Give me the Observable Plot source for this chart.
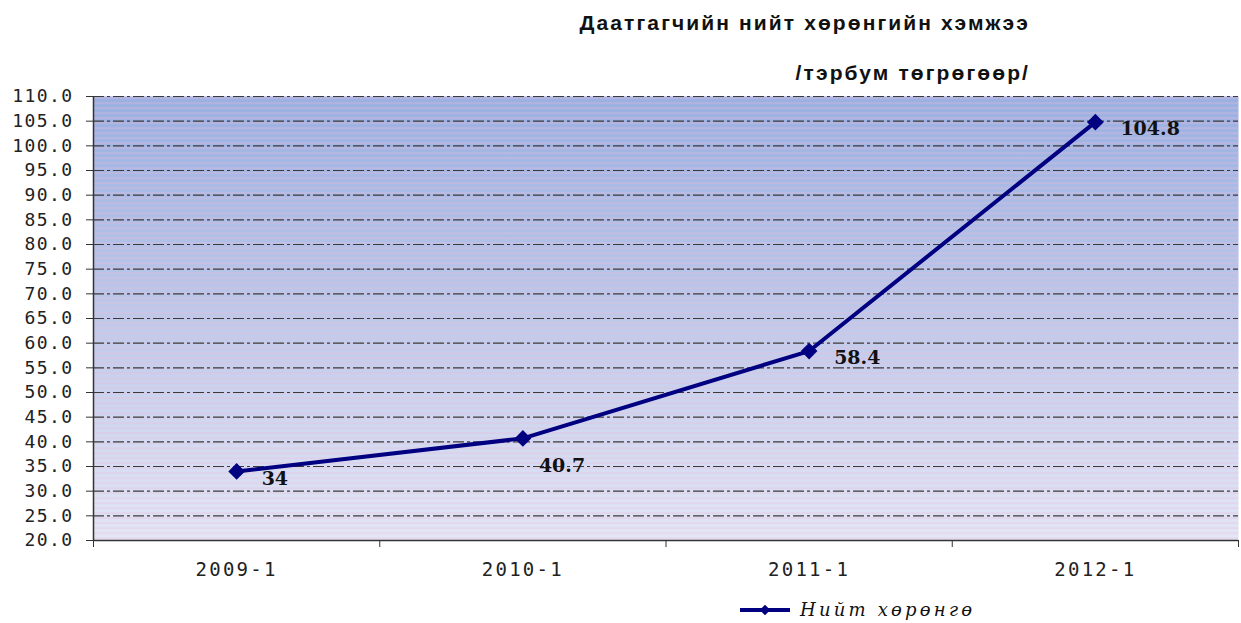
<!DOCTYPE html>
<html>
<head>
<meta charset="utf-8">
<script src="https://cdn.jsdelivr.net/npm/d3@7"></script>
<script src="https://cdn.jsdelivr.net/npm/@observablehq/plot@0.6"></script>
<style>
  html, body { margin: 0; padding: 0; background: #fff; }
  #wrap { position: relative; width: 1241px; height: 623px; overflow: hidden; }
  #wrap svg.plot { position: absolute; left: 0; top: 0; }
  .title { position: absolute; right: 211px; top: 11px; font-family: "Liberation Sans", Arial, sans-serif; font-size: 21px; font-weight: 600; letter-spacing: 2.1px; color: #111; white-space: nowrap; }
  .subtitle { position: absolute; right: 211px; top: 61px; font-family: "Liberation Sans", Arial, sans-serif; font-size: 21px; font-weight: 600; letter-spacing: 2.1px; color: #111; white-space: nowrap; }
  #legend { position: absolute; left: 738px; top: 598px; }
  svg.plot g[aria-label="y-axis tick label"] text { letter-spacing: 1.4px; }
  svg.plot g[aria-label="x-axis tick label"] text { font-size: 19px; letter-spacing: 2.3px; }
</style>
</head>
<body>
<div id="wrap">
  <div class="title">Даатгагчийн нийт хөрөнгийн хэмжээ</div>
  <div class="subtitle">/тэрбум төгрөгөөр/</div>
</div>
<script>
const categories = ["2009-1", "2010-1", "2011-1", "2012-1"];
const values = [34, 40.7, 58.4, 104.8];
const seriesName = "Нийт хөрөнгө";
const yTicks = d3.range(20, 110.001, 5);

const data = categories.map((c, i) => ({ i, c, v: values[i] }));
const boundaries = d3.range(-0.5, categories.length, 1);

const monoFont = "'DejaVu Sans Mono', monospace";

const chart = Plot.plot({
  width: 1241,
  height: 623,
  marginTop: 96,
  marginBottom: 83,
  marginLeft: 93,
  marginRight: 3,
  style: { fontFamily: monoFont, fontSize: "18px", color: "#222", background: "transparent" },
  x: { domain: [-0.5, categories.length - 0.5], axis: null },
  y: { domain: [20, 110], axis: null },
  marks: [
    Plot.frame({ fill: "url(#bgGrad)", stroke: "none" }),
    Plot.frame({ fill: "url(#stripes)", stroke: "none" }),
    Plot.gridY(yTicks.filter(t => t > 20), { stroke: "#3a3a3a", strokeOpacity: 1, strokeWidth: 1.2, strokeDasharray: "11,3,3,3" }),
    Plot.axisY({ ticks: yTicks, tickFormat: d3.format(".1f"), tickSize: 7, tickPadding: 13, label: null, stroke: "#333", fill: "#222" }),
    Plot.axisX({ ticks: boundaries, tickFormat: () => "", tickSize: 7, label: null, stroke: "#333" }),
    Plot.axisX({ ticks: d3.range(categories.length), tickFormat: i => categories[i], tickSize: 0, tickPadding: 22, label: null, fill: "#222" }),
    Plot.ruleY([20], { stroke: "#333", strokeWidth: 1.5 }),
    Plot.ruleX([-0.5], { y1: 20, y2: 110, stroke: "#333", strokeWidth: 1.5 }),
    Plot.line(data, { x: "i", y: "v", stroke: "#000080", strokeWidth: 4 }),
    Plot.dot(data, { x: "i", y: "v", symbol: "diamond2", r: 7.5, fill: "#000080", stroke: "none" }),
    Plot.text(data.filter(d => d.i !== 1), { x: "i", y: "v", text: d => String(d.v), textAnchor: "start", dx: 25, dy: 7, fontFamily: "'DejaVu Serif', serif", fontSize: 19, fontWeight: 600, fill: "#111" }),
    Plot.text(data.filter(d => d.i === 1), { x: "i", y: "v", text: d => String(d.v), textAnchor: "start", dx: 16, dy: 28, fontFamily: "'DejaVu Serif', serif", fontSize: 19, fontWeight: 600, fill: "#111" })
  ]
});
chart.classList.add("plot");

// gradient and stripe definitions
const ns = "http://www.w3.org/2000/svg";
const defs = document.createElementNS(ns, "defs");
defs.innerHTML = `
  <linearGradient id="bgGrad" x1="0" y1="0" x2="0" y2="1">
    <stop offset="0" stop-color="#99b0e2"/>
    <stop offset="0.5" stop-color="#bec9ea"/>
    <stop offset="1" stop-color="#e3e7f6"/>
  </linearGradient>
  <pattern id="stripes" patternUnits="userSpaceOnUse" width="10" height="5">
    <rect x="0" y="2" width="10" height="1.2" fill="rgba(235,185,215,0.5)"/>
  </pattern>`;
chart.insertBefore(defs, chart.firstChild);

document.getElementById("wrap").appendChild(chart);

// legend
const leg = d3.select("#wrap").append("svg").attr("id", "legend").attr("width", 280).attr("height", 25);
leg.append("line").attr("x1", 2).attr("x2", 52).attr("y1", 12).attr("y2", 12).attr("stroke", "#000080").attr("stroke-width", 4);
leg.append("path").attr("d", d3.symbol(d3.symbolSquare2, 70)()).attr("transform", "translate(27,12) rotate(45)").attr("fill", "#000080");
leg.append("text").attr("x", 62).attr("y", 18).attr("font-family", "'DejaVu Serif', serif").attr("font-style", "italic").attr("font-size", 18).attr("letter-spacing", "3.2px").attr("fill", "#111").text(seriesName);
</script>
</body>
</html>
